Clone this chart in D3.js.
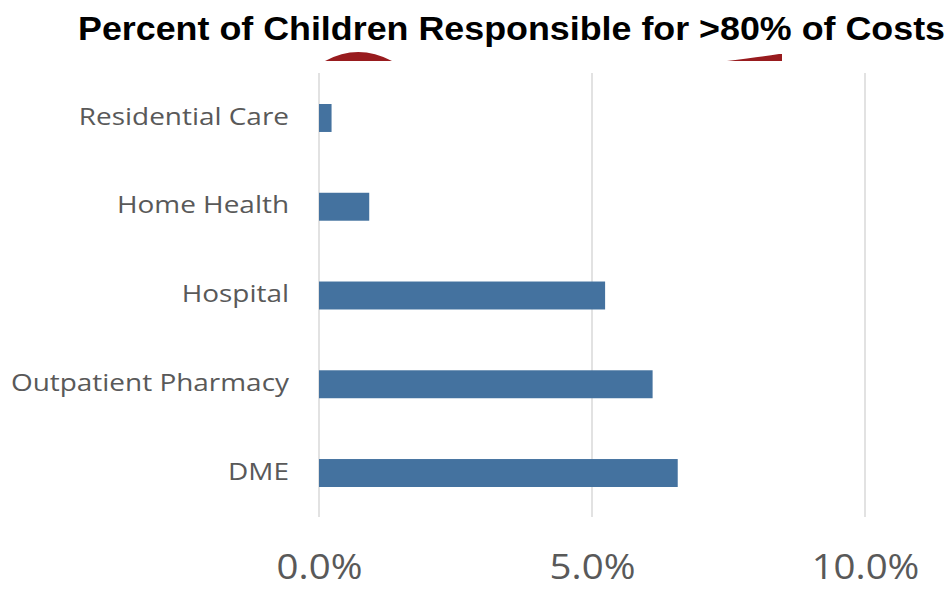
<!DOCTYPE html>
<html>
<head>
<meta charset="utf-8">
<script src="https://cdn.jsdelivr.net/npm/d3@7"></script>
<style>
  html, body { margin: 0; padding: 0; background: #fff; }
  svg { display: block; }
</style>
</head>
<body>
<svg id="chart" width="951" height="589"></svg>
<script>
// Service categories, top to bottom
const categories = ["Residential Care", "Home Health", "Hospital", "Outpatient Pharmacy", "DME"];
// Percent of children responsible for >80% of costs, by service
const percentValues = [0.23, 0.92, 5.24, 6.11, 6.57];
// X-axis ticks (percent)
const tickValues = [0, 5, 10];
const tickLabels = ["0.0%", "5.0%", "10.0%"];
const titleText = "Percent of Children Responsible for >80% of Costs";

const svg = d3.select("#chart");

const x = d3.scaleLinear().domain([0, 10]).range([319, 865]);
const y = d3.scaleBand().domain(categories).range([73.6, 517.4])
  .paddingInner(0.685).paddingOuter(0.3425);

// Widen a text selection horizontally by a factor (Calibri-like proportions)
function widen(sel, factor) {
  sel.each(function () {
    const w = this.getComputedTextLength();
    d3.select(this).attr("textLength", w * factor).attr("lengthAdjust", "spacingAndGlyphs");
  });
}

// Decorative red arcs peeking in under the title
svg.append("path")
  .attr("d", "M325,61 Q358,43 392,61 Z")
  .attr("fill", "#981B1E");
svg.append("path")
  .attr("d", "M727,61 Q760,57 779,54 L782,54 L782,61 Z")
  .attr("fill", "#981B1E");

// Vertical gridlines
svg.append("g")
  .selectAll("line")
  .data(tickValues)
  .join("line")
  .attr("x1", d => x(d)).attr("x2", d => x(d))
  .attr("y1", 73).attr("y2", 517)
  .attr("stroke", "#d9d9d9")
  .attr("stroke-width", 1.5);

// Bars
svg.append("g")
  .selectAll("rect")
  .data(categories)
  .join("rect")
  .attr("x", x(0))
  .attr("y", d => y(d))
  .attr("width", (d, i) => x(percentValues[i]) - x(0))
  .attr("height", y.bandwidth())
  .attr("fill", "#44729F");

// Category labels
const yAxis = d3.axisLeft(y).tickSize(0).tickPadding(0);
const gy = svg.append("g").attr("transform", "translate(289,0)").call(yAxis);
gy.select(".domain").remove();
gy.selectAll("text")
  .attr("fill", "#595959")
  .attr("dy", "0.27em")
  .style("font-family", "'Open Sans', sans-serif")
  .style("font-size", "24.5px")
  .call(widen, 1.14);

// X-axis labels
const xAxis = d3.axisBottom(x).tickValues(tickValues)
  .tickFormat((d, i) => tickLabels[i]).tickSize(0).tickPadding(0);
const gx = svg.append("g").attr("transform", "translate(0,579)").call(xAxis);
gx.select(".domain").remove();
gx.selectAll("text")
  .attr("fill", "#595959")
  .attr("dy", 0)
  .style("font-family", "'Open Sans', sans-serif")
  .style("font-size", "34px")
  .call(widen, 1.13);

// Title
svg.append("text")
  .attr("x", 511.5).attr("y", 40)
  .attr("text-anchor", "middle")
  .attr("textLength", 867)
  .attr("lengthAdjust", "spacingAndGlyphs")
  .style("font-family", "'Liberation Sans', Arial, sans-serif")
  .style("font-weight", "bold")
  .style("font-size", "33.5px")
  .attr("fill", "#000")
  .text(titleText);
</script>
</body>
</html>
